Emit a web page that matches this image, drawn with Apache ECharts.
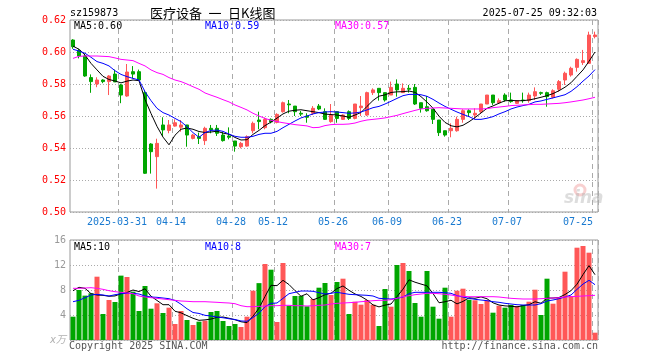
<!DOCTYPE html>
<html>
<head>
<meta charset="utf-8">
<script src="https://cdn.jsdelivr.net/npm/echarts@6/dist/echarts.min.js"></script>
<style>
html,body{margin:0;padding:0;background:#fff;}
#chart{width:660px;height:360px;}
</style>
</head>
<body>
<div id="chart"></div>
<script>
const dates = [
'2025-03-19','2025-03-20','2025-03-21','2025-03-24','2025-03-25','2025-03-26','2025-03-27','2025-03-28',
'2025-03-31','2025-04-01','2025-04-02','2025-04-03','2025-04-07','2025-04-08','2025-04-09','2025-04-10','2025-04-11',
'2025-04-14','2025-04-15','2025-04-16','2025-04-17','2025-04-18','2025-04-21','2025-04-22','2025-04-23','2025-04-24','2025-04-25',
'2025-04-28','2025-04-29','2025-04-30','2025-05-06','2025-05-07','2025-05-08','2025-05-09',
'2025-05-12','2025-05-13','2025-05-14','2025-05-15','2025-05-16','2025-05-19','2025-05-20','2025-05-21','2025-05-22','2025-05-23',
'2025-05-26','2025-05-27','2025-05-28','2025-05-29','2025-05-30','2025-06-03','2025-06-04','2025-06-05','2025-06-06',
'2025-06-09','2025-06-10','2025-06-11','2025-06-12','2025-06-13','2025-06-16','2025-06-17','2025-06-18','2025-06-19','2025-06-20',
'2025-06-23','2025-06-24','2025-06-25','2025-06-26','2025-06-27','2025-06-30','2025-07-01','2025-07-02','2025-07-03','2025-07-04',
'2025-07-07','2025-07-08','2025-07-09','2025-07-10','2025-07-11','2025-07-14','2025-07-15','2025-07-16','2025-07-17','2025-07-18',
'2025-07-21','2025-07-22','2025-07-23','2025-07-24','2025-07-25'
];
const labelDates = ['2025-03-31','2025-04-14','2025-04-28','2025-05-12','2025-05-26','2025-06-09','2025-06-23','2025-07-07','2025-07-25'];

const openP = [
.6075,.601,.5975,.584,.580,.5825,.5815,.5862,.5794,.5725,
.5877,.5877,.5746,.5425,.5346,.5544,.551,.5537,.553,.5544,
.546,.547,.5446,.5523,.5523,.5481,.5475,.5444,.5408,.5412,
.5508,.5575,.5527,.5579,.556,.5627,.5675,.5662,.5617,.560,
.5617,.5662,.5627,.5565,.5627,.5579,.5627,.5585,.5652,.5606,
.5746,.5773,.5746,.5731,.580,.5746,.5773,.5779,.5683,.5658,
.5642,.5575,.5508,.5508,.5508,.5579,.5633,.5606,.5627,.5675,
.5731,.5683,.5731,.570,.5679,.570,.5696,.5725,.5746,.5746,
.5717,.5767,.5825,.5856,.5904,.5934,.5929,.6096
];
const closeP = [
.6033,.5975,.585,.5815,.5825,.5815,.585,.5813,.5731,.5875,
.5862,.5825,.5242,.5377,.5429,.5513,.5544,.5558,.5544,.5481,
.5481,.546,.5523,.5513,.5492,.5446,.5467,.5412,.5429,.5471,
.5554,.5565,.5579,.5563,.561,.5683,.567,.5627,.5612,.5592,
.5648,.5644,.5579,.5606,.5585,.5606,.5585,.5675,.5662,.5746,
.5763,.5746,.570,.5779,.5763,.5773,.5767,.5675,.5648,.5633,
.5579,.5496,.5481,.5523,.5579,.5633,.5621,.5617,.5675,.5731,
.5683,.5696,.570,.569,.5696,.5696,.5731,.5752,.5742,.5721,
.5758,.5815,.5867,.5898,.5954,.5946,.6106,.6106
];
const lowP = [
.602,.596,.5845,.5745,.578,.5805,.5731,.5813,.568,.572,
.5835,.5825,.5238,.524,.5146,.5475,.5492,.5533,.5502,.5408,
.5454,.5425,.5419,.5492,.5475,.544,.5454,.5377,.5398,.5408,
.5492,.5517,.5517,.5554,.5554,.5621,.5617,.560,.560,.5558,
.5606,.5637,.5575,.5558,.5558,.5575,.5575,.5579,.560,.560,
.5731,.5696,.569,.5731,.5721,.5746,.5746,.5669,.5621,.5627,
.555,.5475,.5471,.5467,.5502,.5558,.5596,.5579,.5617,.5675,
.5669,.5675,.569,.5683,.5675,.5683,.5683,.570,.5731,.5658,
.571,.5752,.5794,.5846,.5877,.5919,.5925,.6085
];
const highP = [
.608,.602,.599,.586,.5842,.583,.5855,.589,.580,.5925,
.5912,.589,.5763,.543,.5458,.5592,.5575,.5579,.5575,.5544,
.5488,.5496,.5533,.5544,.5544,.5502,.5529,.5444,.5438,.5479,
.5565,.5627,.559,.5585,.5617,.569,.570,.5662,.5631,.5617,
.5662,.5675,.5648,.5675,.5627,.561,.5635,.5675,.5725,.5752,
.5773,.5773,.5746,.5815,.5829,.5804,.5794,.580,.5683,.5725,
.5642,.5575,.5508,.5554,.5596,.5642,.5642,.5648,.5675,.5731,
.5731,.571,.5742,.5746,.570,.5746,.5746,.5779,.5752,.5752,
.5767,.5825,.5877,.5908,.596,.6013,.6127,.6127
];
const volume = [
3.73,8.0,7.1,7.47,10.13,4.16,6.4,6.08,10.3,10.08,
7.73,4.64,8.64,5.01,5.87,4.32,5.17,2.56,4.64,3.2,
2.4,2.93,3.09,4.48,4.64,3.04,2.24,2.56,2.08,3.73,
7.89,9.1,12.16,11.25,2.88,12.32,5.49,7.04,7.04,5.39,
6.56,8.37,9.12,7.2,9.28,9.81,4.16,6.13,5.65,6.4,
5.65,2.24,8.16,5.33,12.0,12.32,11.04,5.92,3.73,11.04,
5.33,3.41,8.37,3.73,7.89,8.21,6.45,6.35,5.76,6.35,
4.37,5.49,5.17,5.6,5.44,5.6,6.13,8.05,4.0,9.81,
5.81,6.77,10.93,7.04,14.77,15.04,13.97,1.17
];
const ma5 = [
.6037,.6017,.5981,.5929,.5888,.5848,.5828,.5819,.5807,.5818,
.5825,.5821,.5703,.5616,.5535,.5468,.542,.548,.5517,.5525,
.5517,.5503,.5497,.55,.5505,.5493,.5486,.5466,.545,.5452,
.5485,.551,.554,.5562,.5587,.5613,.563,.5636,.5639,.5633,
.5627,.5621,.5612,.5609,.5606,.56,.5592,.5606,.5622,.566,
.5697,.5724,.5732,.5747,.5751,.5752,.5756,.5748,.5721,.5687,
.5649,.5599,.556,.5539,.5532,.5542,.5564,.559,.5619,.5648,
.5663,.568,.5695,.5698,.5695,.5696,.57,.5708,.5717,.5727,
.574,.5758,.578,.5808,.5848,.5888,.5942,.600
];
const ma10 = [
.6017,.6006,.5992,.5967,.5940,.5929,.5913,.5883,.5860,.5846,
.5835,.5825,.5752,.5696,.5648,.5621,.5606,.5585,.5565,.5533,
.5496,.5467,.5496,.5510,.5512,.5504,.5487,.5473,.5467,.5467,
.5473,.5485,.5492,.5492,.5504,.5527,.5548,.5569,.5588,.5600,
.5613,.5621,.5625,.5627,.5625,.5621,.5617,.5619,.5625,.5638,
.5652,.5660,.5675,.5692,.5710,.5727,.5735,.5735,.5733,.5723,
.5704,.5681,.5660,.5642,.5625,.5610,.5596,.5579,.5579,.5586,
.5596,.5613,.5627,.5644,.5656,.5665,.5673,.5688,.5694,.5704,
.5713,.5723,.5733,.5754,.5783,.5818,.5850,.5890
];
const ma30 = [
.5960,.5973,.5975,.5975,.5975,.5973,.5971,.5963,.5954,.5950,
.5946,.5929,.5913,.5888,.5871,.5860,.5840,.5825,.5815,.5800,
.5783,.5767,.5744,.5730,.5717,.5702,.5688,.5669,.5654,.5638,
.5617,.5600,.5585,.5573,.5565,.5558,.5552,.5546,.5542,.5538,
.5527,.5529,.5540,.5546,.5548,.5548,.5550,.5556,.5567,.5575,
.5579,.5583,.5588,.5596,.5604,.5615,.5625,.5635,.5644,.5648,
.5650,.5652,.5650,.5648,.5646,.5644,.5644,.5644,.5644,.5646,
.5652,.5656,.5660,.5665,.5667,.5669,.5671,.5673,.5673,.5675,
.5677,.5679,.5683,.5688,.5694,.5700,.5708,.5717
];
const vma5 = [
7.89,8.43,8.27,7.41,7.2,7.15,7.0,7.05,7.41,7.6,
8.0,7.75,8.2,7.0,6.33,5.65,5.65,4.6,4.35,3.9,
3.48,3.15,3.22,3.35,3.62,3.68,3.48,3.24,2.92,2.78,
3.8,5.1,6.96,8.75,8.7,9.55,8.87,7.9,7.0,7.4,
6.43,6.78,7.25,7.48,8.23,8.65,7.95,7.37,6.97,6.39,
5.62,5.3,5.58,5.76,6.94,8.14,9.63,9.25,8.95,8.67,
7.44,5.96,6.12,6.36,5.78,6.18,6.75,6.68,6.9,6.6,
5.95,5.6,5.46,5.4,5.3,5.5,5.65,6.12,5.88,6.7,
6.72,6.8,7.28,7.9,8.93,10.47,11.9,10.45
];
const vma10 = [
6.13,6.35,6.77,7.2,7.31,7.2,7.04,7.25,7.41,7.47,
7.47,7.36,7.04,6.88,6.83,6.72,6.61,6.33,5.73,5.0,
4.4,4.25,3.95,3.84,3.68,3.56,3.4,3.28,3.05,3.0,
3.6,4.3,5.33,5.87,5.92,6.67,7.41,7.63,7.84,7.84,
7.79,7.57,7.36,7.47,7.63,7.47,7.31,7.25,7.2,7.15,
7.04,6.67,6.61,6.56,6.67,6.88,7.41,7.63,7.63,7.63,
7.63,7.63,7.57,7.47,7.09,6.88,6.67,6.51,6.4,6.29,
6.13,6.03,5.87,5.76,5.65,5.6,5.6,5.6,5.81,6.24,
6.4,6.61,6.88,7.2,8.1,8.95,9.55,8.85
];
const vma30 = [
8.27,8.27,8.32,8.37,8.27,8.11,7.89,7.73,7.63,7.52,
7.41,7.04,6.88,6.77,6.67,6.56,6.45,6.35,6.24,6.19,
6.13,6.13,6.13,6.08,6.03,5.97,5.92,5.81,5.49,5.33,
5.33,5.39,5.44,5.49,5.49,5.55,5.55,5.49,5.49,5.44,
5.49,5.55,5.6,5.76,5.87,5.92,5.97,6.03,6.13,6.19,
6.29,6.35,6.35,6.45,6.67,6.93,7.09,7.25,7.36,7.47,
7.47,7.41,7.31,7.2,7.04,6.99,6.93,6.93,6.93,6.93,
6.93,6.88,6.77,6.67,6.61,6.56,6.56,6.56,6.61,6.67,
6.72,6.77,6.88,6.93,6.99,7.04,7.09,7.15
];
const priceMin = 0.50, priceMax = 0.62, priceStep = 0.02;
const volMin = 0, volMax = 16, volStep = 4;

const RED = '#ff5757', GREEN = '#00a600';
const MONO = '"DejaVu Sans Mono", "Liberation Mono", monospace';
const showAt = function (idx, val) { return labelDates.indexOf(val) >= 0; };

const chart = echarts.init(document.getElementById('chart'), null, {renderer: 'canvas'});
const candleData = dates.map((d, i) => [openP[i], closeP[i], lowP[i], highP[i]]);
const volData = volume.map((v, i) => ({value: v, itemStyle: {color: closeP[i] >= openP[i] ? RED : GREEN}}));

const dashed = {show: true, interval: showAt, lineStyle: {color: '#aaaaaa', width: 1, type: [5, 4]}};
const dotted = {show: true, lineStyle: {color: '#aaaaaa', width: 1, type: [1, 2]}};

function txt(x, y, text, fill, align, font) {
  return {type: 'text', silent: true, style: {x: x, y: y, text: text, fill: fill, font: font || ('10px ' + MONO), textAlign: align || 'left', textVerticalAlign: 'middle'}};
}

chart.setOption({
  animation: false,
  backgroundColor: '#fff',
  grid: [
    {left: 70, right: 62, top: 20, height: 192, show: true, borderColor: '#999', borderWidth: 1},
    {left: 70, right: 62, top: 240, height: 100, show: true, borderColor: '#999', borderWidth: 1}
  ],
  xAxis: [
    {type: 'category', gridIndex: 0, data: dates, boundaryGap: true,
     axisLine: {show: false}, axisTick: {show: false},
     axisLabel: {show: true, interval: showAt, margin: 5, color: '#1a7ad0', fontFamily: MONO, fontSize: 10,
       formatter: function (v, i) { const t = v === '2025-03-31' ? v : v.slice(5); return i === dates.length - 1 ? '{b|' + t + '}' : '{a|' + t + '}'; },
       rich: {a: {padding: [0, 8, 0, 0], color: '#1a7ad0', fontFamily: MONO, fontSize: 10},
              b: {padding: [0, 34, 0, 0], color: '#1a7ad0', fontFamily: MONO, fontSize: 10}}},
     splitLine: dashed},
    {type: 'category', gridIndex: 1, data: dates, boundaryGap: true,
     axisLine: {show: false}, axisTick: {show: false}, axisLabel: {show: false},
     splitLine: dashed}
  ],
  yAxis: [
    {type: 'value', gridIndex: 0, min: priceMin, max: priceMax, interval: priceStep, scale: true,
     axisLine: {show: false}, axisTick: {show: false},
     axisLabel: {color: '#ff0000', fontFamily: MONO, fontSize: 10, margin: 4, formatter: v => v.toFixed(2)},
     splitLine: dotted},
    {type: 'value', gridIndex: 1, min: volMin, max: volMax, interval: volStep,
     axisLine: {show: false}, axisTick: {show: false},
     axisLabel: {color: '#999', fontFamily: MONO, fontSize: 10, margin: 4,
       formatter: v => v === 0 ? '{u|x万}' : String(v),
       rich: {u: {color: '#b0b0b0', fontSize: 10, fontFamily: 'DejaVu Sans, "Noto Sans CJK SC"', fontStyle: 'italic'}}},
     splitLine: dotted}
  ],
  series: [
    {type: 'candlestick', xAxisIndex: 0, yAxisIndex: 0, data: candleData, barWidth: 4,
     itemStyle: {color: RED, color0: GREEN, borderColor: RED, borderColor0: GREEN, borderWidth: 1}},
    {type: 'line', xAxisIndex: 0, yAxisIndex: 0, data: ma5, symbol: 'none', lineStyle: {color: '#000', width: 1}, z: 3},
    {type: 'line', xAxisIndex: 0, yAxisIndex: 0, data: ma10, symbol: 'none', lineStyle: {color: '#0000ff', width: 1}, z: 3},
    {type: 'line', xAxisIndex: 0, yAxisIndex: 0, data: ma30, symbol: 'none', lineStyle: {color: '#ff00ff', width: 1}, z: 3},
    {type: 'bar', xAxisIndex: 1, yAxisIndex: 1, data: volData, barWidth: 5},
    {type: 'line', xAxisIndex: 1, yAxisIndex: 1, data: vma5, symbol: 'none', lineStyle: {color: '#000', width: 1}, z: 3},
    {type: 'line', xAxisIndex: 1, yAxisIndex: 1, data: vma10, symbol: 'none', lineStyle: {color: '#0000ff', width: 1}, z: 3},
    {type: 'line', xAxisIndex: 1, yAxisIndex: 1, data: vma30, symbol: 'none', lineStyle: {color: '#ff00ff', width: 1}, z: 3}
  ],
  graphic: [
    txt(70, 13, 'sz159873', '#000'),
    txt(150, 13, '医疗设备\u2002一\u2002日K线图', '#000', 'left', '13px "Noto Sans CJK SC"'),
    txt(597, 13, '2025-07-25 09:32:03', '#000', 'right'),
    txt(74, 26, 'MA5:0.60', '#000'),
    txt(205, 26, 'MA10:0.59', '#0000ff'),
    txt(335, 26, 'MA30:0.57', '#ff00ff'),
    txt(74, 247, 'MA5:10', '#000'),
    txt(205, 247, 'MA10:8', '#0000ff'),
    txt(335, 247, 'MA30:7', '#ff00ff'),
    txt(69, 346, 'Copyright 2025 SINA.COM', '#555'),
    txt(598, 346, 'http://finance.sina.com.cn', '#555', 'right'),
    {type: 'circle', silent: true, z: -1, shape: {cx: 580, cy: 190, r: 5}, style: {fill: 'none', stroke: 'rgba(235,120,120,0.35)', lineWidth: 3}},
    {type: 'text', silent: true, z: -1, style: {x: 564, y: 199, text: 'sina', fill: 'rgba(180,180,180,0.45)', font: 'italic bold 17px "DejaVu Sans"', textAlign: 'left', textVerticalAlign: 'middle'}}
  ]
});
</script>
</body>
</html>
